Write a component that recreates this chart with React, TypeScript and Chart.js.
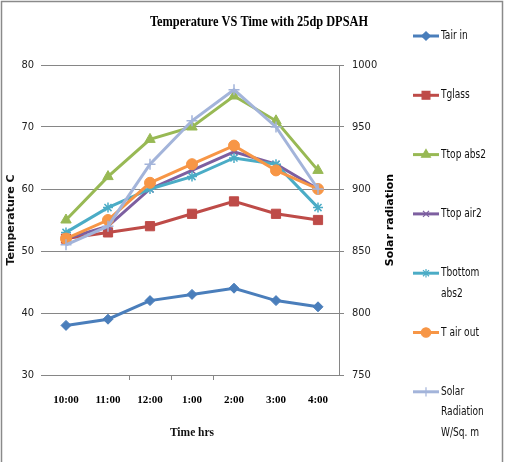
import { useEffect, useRef } from "react";
import { Chart, registerables } from "chart.js";
import { drawPoint } from "chart.js/helpers";

Chart.register(...registerables);

// Hourly readings
const times = ["10:00", "11:00", "12:00", "1:00", "2:00", "3:00", "4:00"];
const tairIn = [38, 39, 42, 43, 44, 42, 41];
const tglass = [52, 53, 54, 56, 58, 56, 55];
const ttopAbs2 = [55, 62, 68, 70, 75, 71, 63];
const ttopAir2 = [52, 54, 60, 63, 66, 64, 60];
const tbottomAbs2 = [53, 57, 60, 62, 65, 64, 57];
const tairOut = [52, 55, 61, 64, 67, 63, 60];
const solarRadiation = [855, 870, 920, 955, 980, 950, 900];

const seriesNames = [
  "Tair in",
  "Tglass",
  "Ttop abs2",
  "Ttop air2",
  "Tbottom abs2",
  "T air out",
  "Solar Radiation W/Sq. m",
];
const legendLines = [
  ["Tair in"],
  ["Tglass"],
  ["Ttop abs2"],
  ["Ttop air2"],
  ["Tbottom", "abs2"],
  ["T air out"],
  ["Solar", "Radiation", "W/Sq. m"],
];
const tempTicks = { min: 30, max: 80, step: 10 };
const solarTicks = { min: 750, max: 1000, step: 50 };

const chartTitle = "Temperature VS Time with 25dp DPSAH";
const xTitle = "Time hrs";
const yTitle = "Temperature C";
const y1Title = "Solar radiation";

const colors = ["#4A7EBB", "#BE4B48", "#98B954", "#7D5FA0", "#4BACC6", "#F79646", "#A3B4DA"];
const pointStyles = ["rectRot", "rect", "triangle", "crossRot", "star", "circle", "cross"];
const pointRadii = [5, 6.5, 6, 5, 5, 5.5, 5.5];

const GRID = "#868686";
const SANS = '"Liberation Sans Narrow", "DejaVu Sans Condensed", "Liberation Sans", sans-serif';
const SERIF = '"Liberation Serif", "Times New Roman", serif';
const BOLD_SANS = '"DejaVu Sans", Verdana, sans-serif';

const decorPlugin = {
  id: "decor",
  beforeDraw(chart: any) {
    const { ctx, width, height } = chart;
    ctx.save();
    ctx.fillStyle = "#ffffff";
    ctx.fillRect(0, 0, width, height);
    ctx.restore();
  },
  afterDraw(chart: any) {
    const { ctx, chartArea } = chart;
    ctx.save();

    // outer frame
    ctx.strokeStyle = "#8a8a8a";
    ctx.lineWidth = 1.5;
    ctx.strokeRect(1.5, 1.5, 501, 480);

    // chart title
    ctx.fillStyle = "#000";
    ctx.font = `bold 14px ${SERIF}`;
    ctx.textAlign = "center";
    ctx.textBaseline = "middle";
    ctx.fillText(chartTitle, 259, 22, 218);

    // secondary axis title, reading bottom to top
    ctx.save();
    ctx.translate(390, (chartArea.top + chartArea.bottom) / 2);
    ctx.rotate(-Math.PI / 2);
    ctx.font = `bold 11px ${BOLD_SANS}`;
    ctx.fillStyle = "#000";
    ctx.fillText(y1Title, 0, 0);
    ctx.restore();

    // legend
    chart.data.datasets.forEach((ds: any, i: number) => {
      const y = 36 + i * 59.3;
      ctx.strokeStyle = ds.borderColor;
      ctx.lineWidth = 3;
      ctx.beginPath();
      ctx.moveTo(413, y);
      ctx.lineTo(439, y);
      ctx.stroke();
      ctx.fillStyle = ds.pointBackgroundColor;
      ctx.strokeStyle = ds.pointBorderColor;
      ctx.lineWidth = 1.2;
      drawPoint(ctx, { pointStyle: ds.pointStyle, radius: ds.pointRadius * 0.85, rotation: 0, borderWidth: 1.2 }, 426, y);
      ctx.fillStyle = "#111";
      ctx.font = `12px ${SANS}`;
      ctx.textAlign = "left";
      ctx.textBaseline = "middle";
      legendLines[i].forEach((line, k) => {
        ctx.save();
        ctx.translate(441, y + k * 20.5);
        ctx.scale(0.84, 1);
        ctx.fillText(line, 0, 0);
        ctx.restore();
      });
    });
    ctx.restore();
  },
};

export default function App() {
  const ref = useRef<HTMLCanvasElement>(null);

  useEffect(() => {
    const series = [tairIn, tglass, ttopAbs2, ttopAir2, tbottomAbs2, tairOut, solarRadiation];
    const datasets = series.map((data, i) => {
      const isCross = pointStyles[i] === "crossRot" || pointStyles[i] === "star" || pointStyles[i] === "cross";
      return {
        label: seriesNames[i],
        data,
        yAxisID: i === 6 ? "y1" : "y",
        borderColor: colors[i],
        backgroundColor: colors[i],
        borderWidth: 3,
        pointStyle: pointStyles[i],
        pointRadius: pointRadii[i],
        pointBackgroundColor: colors[i],
        pointBorderColor: colors[i],
        pointBorderWidth: isCross ? 1.5 : 1,
        tension: 0,
        order: 10 - i,
      };
    });

    const chart = new Chart(ref.current as HTMLCanvasElement, {
      type: "line",
      data: { labels: times, datasets },
      plugins: [decorPlugin],
      options: {
        animation: false,
        responsive: false,
        devicePixelRatio: 1,
        layout: { padding: { top: 65, right: 110, bottom: 12, left: 0 } },
        plugins: {
          legend: { display: false },
          title: { display: false },
          tooltip: { enabled: false },
        },
        scales: {
          x: {
            offset: true,
            afterFit: (s: any) => {
              s.height = 75;
            },
            grid: {
              offset: true,
              display: true,
              drawOnChartArea: false,
              drawTicks: true,
              tickLength: 5,
              tickColor: (c: any) => (c.index >= 2 && c.index <= 4 ? GRID : "rgba(0,0,0,0)"),
            },
            border: { display: true, color: GRID, width: 1 },
            ticks: {
              padding: 14,
              color: "#000",
              font: { family: SERIF, size: 11, weight: "bold" },
              maxRotation: 0,
            },
            title: {
              display: true,
              text: xTitle,
              color: "#111",
              font: { family: SERIF, size: 11.5, weight: "bold" },
              padding: { top: 0, bottom: 10 },
            },
          },
          y: {
            position: "left",
            min: tempTicks.min,
            max: tempTicks.max,
            afterFit: (s: any) => {
              s.width = 45;
            },
            ticks: {
              stepSize: tempTicks.step,
              padding: 7,
              color: "#222",
              font: { family: SANS, size: 11 },
            },
            grid: { color: GRID, lineWidth: 1, tickLength: 4, tickColor: GRID },
            border: { display: false },
            title: {
              display: true,
              text: yTitle,
              color: "#111",
              font: { family: BOLD_SANS, size: 11, weight: "bold" },
              padding: { top: 5, bottom: 0 },
            },
          },
          y1: {
            position: "right",
            min: solarTicks.min,
            max: solarTicks.max,
            afterFit: (s: any) => {
              s.width = 60;
            },
            ticks: {
              stepSize: solarTicks.step,
              padding: 8,
              color: "#222",
              font: { family: SANS, size: 11 },
              callback: (v: any) => String(v),
            },
            grid: { drawOnChartArea: false, tickLength: 5, tickColor: GRID },
            border: { display: true, color: GRID, width: 1 },
            title: { display: false },
          },
        },
      } as any,
    });
    return () => chart.destroy();
  }, []);

  return (
    <div style={{ position: "absolute", left: 0, top: 0, width: 509, height: 462, background: "#fff" }}>
      <canvas ref={ref} width={509} height={462} style={{ display: "block", width: 509, height: 462 }} />
    </div>
  );
}
